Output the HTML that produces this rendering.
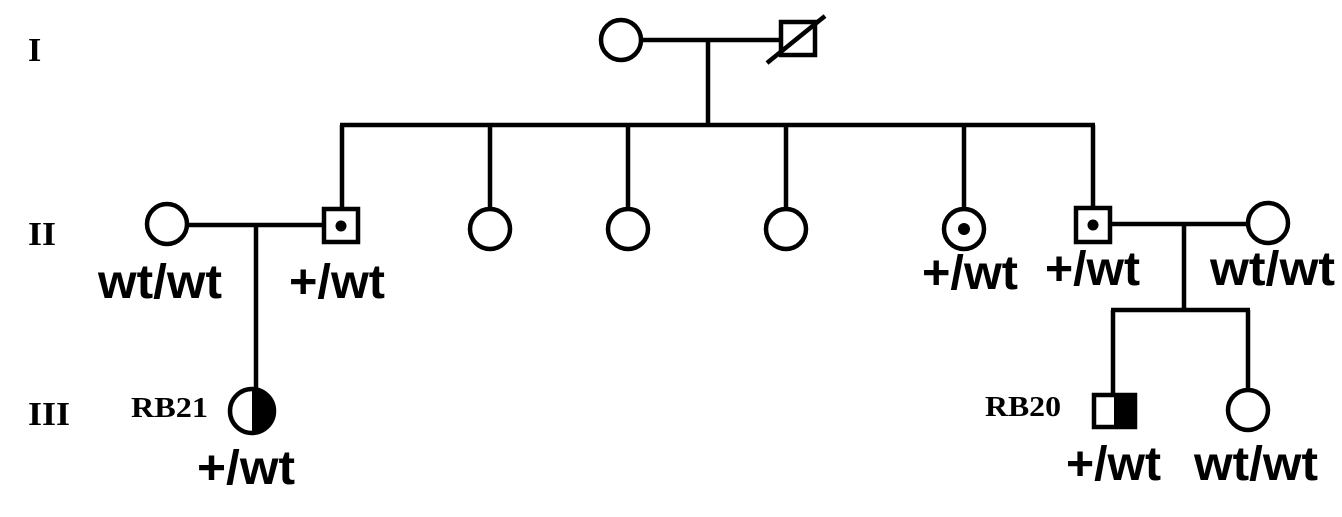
<!DOCTYPE html>
<html><head><meta charset="utf-8"><style>
html,body{margin:0;padding:0;background:#fff;}
svg{display:block;}
.r{font-family:"Liberation Serif",serif;font-weight:bold;fill:#000;}
.l{font-family:"Liberation Sans",sans-serif;font-weight:bold;fill:#000;font-size:48px;}
</style></head><body>
<svg width="1342" height="517" viewBox="0 0 1342 517" xmlns="http://www.w3.org/2000/svg">
<g stroke="#000" stroke-width="4.5" fill="none">
<circle cx="621" cy="40" r="20"/>
<line x1="641" y1="40" x2="782" y2="40"/>
<rect x="781" y="22" width="34" height="33"/>
<line x1="767" y1="63" x2="825" y2="16"/>
<line x1="708" y1="40" x2="708" y2="125"/>
<line x1="340" y1="125" x2="1095" y2="125"/>
<line x1="342" y1="125" x2="342" y2="209"/>
<line x1="490" y1="125" x2="490" y2="207"/>
<line x1="628" y1="125" x2="628" y2="207"/>
<line x1="786" y1="125" x2="786" y2="207"/>
<line x1="964" y1="125" x2="964" y2="207"/>
<line x1="1093" y1="125" x2="1093" y2="209"/>
<circle cx="167" cy="224" r="20"/>
<line x1="187" y1="225" x2="324" y2="225"/>
<rect x="324" y="209" width="34" height="33"/>
<circle cx="490" cy="229" r="20"/>
<circle cx="628" cy="229" r="20"/>
<circle cx="786" cy="229" r="20"/>
<circle cx="964" cy="229" r="20"/>
<rect x="1076" y="208" width="34" height="34"/>
<line x1="1110" y1="224" x2="1248" y2="224"/>
<circle cx="1268" cy="223" r="20"/>
<line x1="256" y1="225" x2="256" y2="390"/>
<line x1="1184" y1="224" x2="1184" y2="310"/>
<line x1="1111" y1="310" x2="1250" y2="310"/>
<line x1="1113" y1="310" x2="1113" y2="395"/>
<line x1="1248" y1="310" x2="1248" y2="390"/>
<rect x="1094" y="395" width="41" height="32"/>
<circle cx="1248" cy="410" r="20"/>
<circle cx="252" cy="411" r="22"/>
</g>
<g fill="#000">
<circle cx="341" cy="226" r="5.5"/>
<circle cx="964" cy="229" r="6"/>
<circle cx="1093" cy="225" r="5.5"/>
<rect x="1114" y="395" width="21" height="32"/>
<path d="M252 389 A22 22 0 0 1 252 433 Z"/>
</g>
<text class="r" x="28" y="61" font-size="34">I</text>
<text class="r" x="28" y="245" font-size="34" textLength="28" lengthAdjust="spacingAndGlyphs">II</text>
<text class="r" x="28" y="425" font-size="34" textLength="42" lengthAdjust="spacingAndGlyphs">III</text>
<text class="r" x="131" y="417" font-size="28" textLength="77" lengthAdjust="spacingAndGlyphs">RB21</text>
<text class="r" x="985" y="416" font-size="28" textLength="76" lengthAdjust="spacingAndGlyphs">RB20</text>
<text class="l" x="98" y="298" textLength="124" lengthAdjust="spacingAndGlyphs">wt/wt</text>
<text class="l" x="289" y="298" textLength="96" lengthAdjust="spacingAndGlyphs">+/wt</text>
<text class="l" x="922" y="289" textLength="96" lengthAdjust="spacingAndGlyphs">+/wt</text>
<text class="l" x="1045" y="285" textLength="95" lengthAdjust="spacingAndGlyphs">+/wt</text>
<text class="l" x="1210" y="285" textLength="125" lengthAdjust="spacingAndGlyphs">wt/wt</text>
<text class="l" x="197" y="484" textLength="98" lengthAdjust="spacingAndGlyphs">+/wt</text>
<text class="l" x="1066" y="480" textLength="95" lengthAdjust="spacingAndGlyphs">+/wt</text>
<text class="l" x="1194" y="480" textLength="124" lengthAdjust="spacingAndGlyphs">wt/wt</text>
</svg>
</body></html>
